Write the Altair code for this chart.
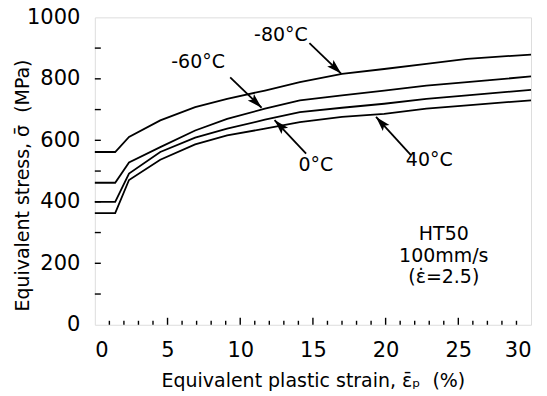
import math
import altair as alt
import pandas as pd

# ---- data ----
strain = [0, 1.4, 2.35, 4.5, 6.9, 9.1, 11.7, 14.1, 17.0, 19.9, 22.8, 25.6, 30]
stress_m80 = [562, 562, 611, 665, 708, 735, 762, 789, 816, 832, 849, 865, 879]
stress_m60 = [462, 462, 528, 578, 632, 670, 703, 730, 746, 762, 778, 789, 808]
stress_0 = [400, 400, 492, 562, 609, 638, 667, 692, 706, 719, 735, 746, 764]
stress_40 = [363, 363, 471, 537, 587, 616, 638, 659, 676, 686, 703, 714, 730]

temps = ["-80°C", "-60°C", "0°C", "40°C"]
label_x = [12.8, 7.1, 15.2, 23.0]
label_y = [941, 854, 519, 536]
arrow_x0 = [14.76, 9.31, 14.53, 21.74]
arrow_y0 = [916, 805, 557, 552]
arrow_x1 = [16.94, 11.47, 12.36, 19.34]
arrow_y1 = [817, 706, 666, 676]

info_lines = ["HT50", "100mm/s", "(ε\u0307=2.5)"]
info_x = [24.0, 24.0, 24.0]
info_y = [295, 224, 156]

x_labels = [0, 5, 10, 15, 20, 25, 30]
y_labels = [0, 200, 400, 600, 800, 1000]
x_major_ticks = [5, 10, 15, 20, 25]
x_minor_ticks = [1, 2, 3, 4, 6, 7, 8, 9, 11, 12, 13, 14, 16, 17, 18, 19,
                 21, 22, 23, 24, 26, 27, 28, 29]
y_ticks = [100, 200, 300, 400, 500, 600, 700, 800, 900]

W, H = 437, 308
FONT = "DejaVu Sans"

rows = []
for name, vals in zip(temps, [stress_m80, stress_m60, stress_0, stress_40]):
    for s, v in zip(strain, vals):
        rows.append({"strain": s, "stress": v, "temp": name})
curves = pd.DataFrame(rows)

# arrow head angles (screen space, clockwise from up)
angles = []
for x0, y0, x1, y1 in zip(arrow_x0, arrow_y0, arrow_x1, arrow_y1):
    dx = (x1 - x0) * W / 30
    dys = -(y1 - y0) * H / 1000
    a = math.degrees(math.atan2(dx, -dys)) % 360
    angles.append(a)

arrows = pd.DataFrame({"x0": arrow_x0, "y0": arrow_y0, "x1": arrow_x1,
                       "y1": arrow_y1, "ang": angles})
labels = pd.DataFrame({"x": label_x, "y": label_y, "t": temps})
info = pd.DataFrame({"x": info_x, "y": info_y, "t": info_lines})

xscale = alt.Scale(domain=[0, 30], nice=False, zero=False)
yscale = alt.Scale(domain=[0, 1000], nice=False, zero=False)

xaxis = alt.Axis(values=x_labels, format="d", ticks=False, domain=False, grid=False,
                 labelFontSize=21, labelFont=FONT, labelColor="black",
                 labelPadding=15, title="Equivalent plastic strain, ε\u0304ₚ\u00a0 (%)",
                 titleFontSize=19, titleFont=FONT, titleFontWeight="normal",
                 titleColor="black", titleBaseline="alphabetic", titleY=62)
yaxis = alt.Axis(values=y_labels, format="d", ticks=False, domain=False, grid=False,
                 labelFontSize=21, labelFont=FONT, labelColor="black",
                 labelPadding=15, title="Equivalent stress, σ\u0304\u00a0 (MPa)",
                 titleFontSize=19, titleFont=FONT, titleFontWeight="normal",
                 titleColor="black", titleBaseline="alphabetic", titleX=-66,
                 titleY=H / 2 + 14)

lines = alt.Chart(curves).mark_line(color="black", strokeWidth=1.8).encode(
    x=alt.X("strain:Q", scale=xscale, axis=xaxis),
    y=alt.Y("stress:Q", scale=yscale, axis=yaxis),
    detail="temp:N",
)

shafts = alt.Chart(arrows).mark_rule(color="black", strokeWidth=1.8).encode(
    x=alt.X("x0:Q", scale=xscale), y=alt.Y("y0:Q", scale=yscale),
    x2="x1:Q", y2="y1:Q",
)
heads = alt.Chart(arrows).mark_point(
    shape="M0,0L-0.3,1L0,0.8L0.3,1Z", filled=True, size=900, color="black",
    opacity=1, strokeWidth=0
).encode(
    x=alt.X("x1:Q", scale=xscale), y=alt.Y("y1:Q", scale=yscale),
    angle=alt.Angle("ang:Q", scale=None),
)

temp_text = alt.Chart(labels).mark_text(
    font=FONT, fontSize=19, color="black", baseline="middle", align="center"
).encode(x=alt.X("x:Q", scale=xscale), y=alt.Y("y:Q", scale=yscale), text="t:N")

info_text = alt.Chart(info).mark_text(
    font=FONT, fontSize=19, color="black", baseline="middle", align="center"
).encode(x=alt.X("x:Q", scale=xscale), y=alt.Y("y:Q", scale=yscale), text="t:N")

xmaj = alt.Chart(pd.DataFrame({"v": x_major_ticks})).mark_rule(
    color="black", strokeWidth=1.4).encode(
    x=alt.X("v:Q", scale=xscale), y=alt.value(H), y2=alt.value(H - 7))
xmin = alt.Chart(pd.DataFrame({"v": x_minor_ticks})).mark_rule(
    color="black", strokeWidth=1.4).encode(
    x=alt.X("v:Q", scale=xscale), y=alt.value(H), y2=alt.value(H - 4))
yt = alt.Chart(pd.DataFrame({"v": y_ticks})).mark_rule(
    color="black", strokeWidth=1.4).encode(
    y=alt.Y("v:Q", scale=yscale), x=alt.value(0), x2=alt.value(6))

chart = alt.layer(lines, xmaj, xmin, yt, shafts, heads, temp_text, info_text).properties(
    width=W, height=H,
    autosize=alt.AutoSizeParams(type="none"),
    padding={"left": 87, "top": 9, "right": 8, "bottom": 75},
).configure_view(stroke="black", strokeWidth=1.8).configure(background="white")

chart.save("out.html", embed_options={"renderer": "svg", "actions": False})
